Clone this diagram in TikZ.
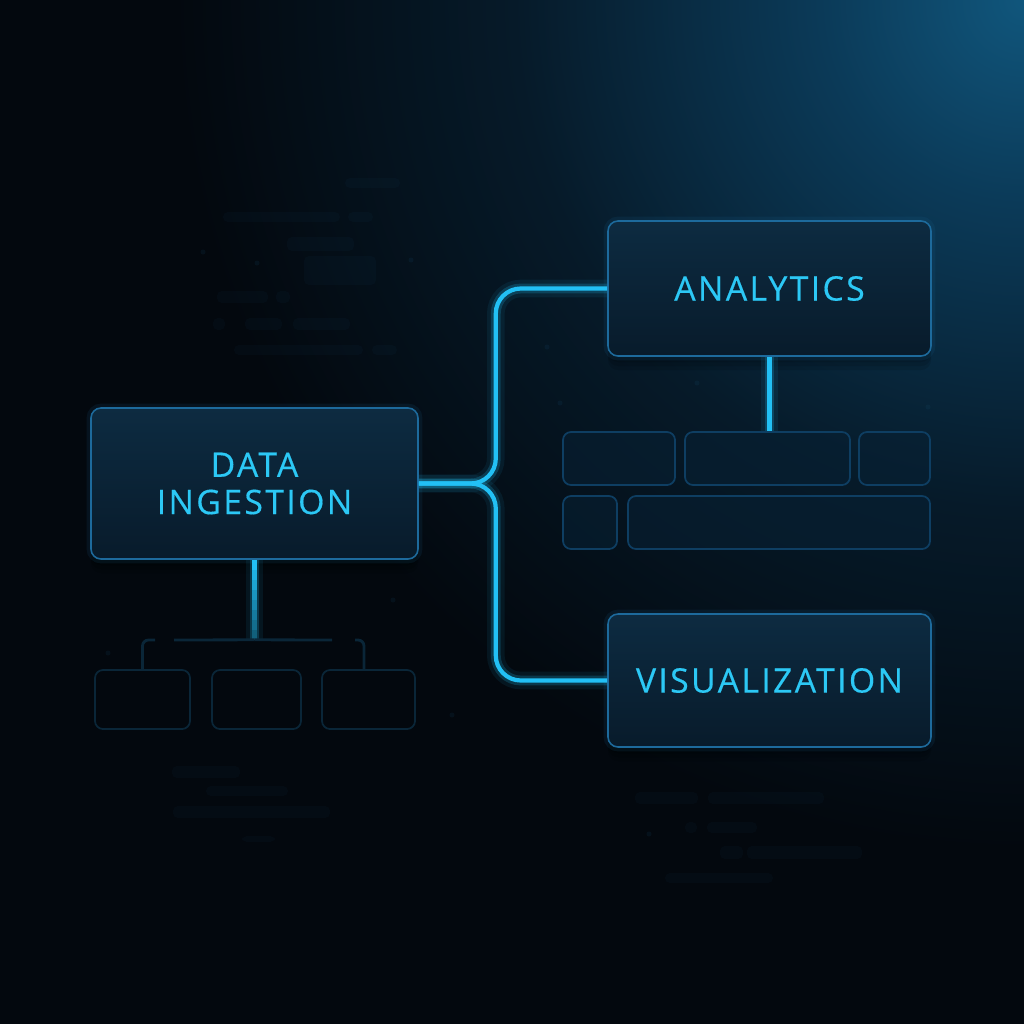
\documentclass[tikz,border=0pt]{standalone}
\usepackage{fontspec}
\newfontfamily\boxfont[LetterSpace=7,FakeBold=0.4]{Open Sans}
\usetikzlibrary{calc}
\definecolor{bgdark}{HTML}{03080E}
\definecolor{glowA}{HTML}{10567C}
\definecolor{glowB}{HTML}{0B3A58}
\definecolor{glowC}{HTML}{061A29}
\definecolor{boxtop}{HTML}{0D2B41}
\definecolor{boxbot}{HTML}{081B2B}
\definecolor{boxedge}{HTML}{1D6A9C}
\definecolor{labelcyan}{HTML}{2CC8F5}
\definecolor{wirecyan}{HTML}{22C0F5}
\definecolor{subfill}{HTML}{072033}
\definecolor{subedge}{HTML}{0E3E62}
\definecolor{subdim}{HTML}{0A2638}
\definecolor{barblue}{HTML}{1B5780}
\pgfdeclareradialshading{bgglow}{\pgfpoint{0bp}{0bp}}{color(0bp)=(glowA); color(6bp)=(glowB); color(15bp)=(glowC); color(25bp)=(bgdark); color(50bp)=(bgdark)}
\tikzset{
  mainbox/.style={rounded corners=0.1cm, draw=boxedge, line width=0.45pt,
    top color=boxtop, bottom color=boxbot, text=labelcyan, align=center, inner sep=0pt,
    font=\boxfont\fontsize{9.6}{10.6}\selectfont,
    preaction={fill=black, opacity=.1, transform canvas={yshift=-0.14cm}},
    preaction={fill=black, opacity=.1, transform canvas={yshift=-0.1cm}},
    preaction={fill=black, opacity=.1, transform canvas={yshift=-0.06cm}},
    preaction={draw=boxedge, line width=2.5pt, opacity=.12}},
  subbox/.style={rounded corners=0.08cm, draw=subedge, line width=0.5pt, fill=subfill, fill opacity=.6, inner sep=0pt},
  dimbox/.style={subbox, draw=subdim, fill=none},
  wire/.style={draw=wirecyan, line width=1.2pt, rounded corners=0.25cm,
    preaction={draw=wirecyan, line width=5pt, opacity=.08},
    preaction={draw=wirecyan, line width=2.8pt, opacity=.2}},
  stem/.style={wire, rounded corners=0pt},
  twig/.style={draw=subdim, line width=0.8pt, rounded corners=0.06cm},
  bar/.style={fill=barblue, fill opacity=.06, rounded corners=0.05cm},
  speck/.style={fill=barblue, fill opacity=.12}
}
\def\px{0.01cm}

\begin{document}
\begin{tikzpicture}[x=0.01cm, y=-0.01cm]
  %%%%% BACKGROUND %%%%%
  \useasboundingbox (0,0) rectangle (1024,1024);
  \fill[bgdark] (0,0) rectangle (1024,1024);
  \begin{scope}
    \clip (0,0) rectangle (1024,1024);
    \shade[shading=bgglow] (1024,0) circle (850);
  \end{scope}

  % faint placeholder bars
  \foreach \xa/\ya/\xb/\yb in {345/178/400/188, 223/212/340/222, 348/212/373/222, 287/237/354/251,
      304/256/376/285, 217/291/268/303, 276/291/290/303, 213/318/225/330, 245/318/282/330,
      293/318/350/330, 234/345/363/355, 372/345/397/355,
      172/766/240/778, 206/786/288/796, 173/806/330/818, 242/836/275/842,
      635/792/698/804, 708/792/824/804, 685/822/697/833, 707/822/757/833,
      720/846/743/859, 747/846/862/859, 665/873/773/883}
    \fill[bar] (\xa,\ya) rectangle (\xb,\yb);
  \foreach \x/\y in {203/252, 257/263, 411/260, 393/600, 108/653, 452/715,
      697/383, 560/403, 928/407, 547/347, 649/834}
    \fill[speck] (\x,\y) circle (2.5);

  %%%%% MAIN BOXES %%%%%
  \node[mainbox, minimum width=327*\px, minimum height=151*\px] (ingest) at (254.5,483.5) {DATA\\INGESTION};
  \node[mainbox, minimum width=323*\px, minimum height=135*\px] (analytics) at (769.5,288.5) {ANALYTICS};
  \node[mainbox, minimum width=323*\px, minimum height=133*\px] (visual) at (769.5,680.5) {VISUALIZATION};

  %%%%% SUB BOXES %%%%%
  \foreach \n/\x/\y/\w/\h in {a1/619/458.5/112/53, a2/767.5/458.5/165/53, a3/894.5/458.5/71/53,
      a4/590/522.5/54/53, a5/779/522.5/302/53}
    \node[subbox, minimum width=\w*\px, minimum height=\h*\px] (\n) at (\x,\y) {};
  \foreach \n/\x/\y/\w/\h in {i1/142.5/699.5/95/59, i2/256.5/699.5/89/59, i3/368.5/699.5/93/59}
    \node[dimbox, minimum width=\w*\px, minimum height=\h*\px] (\n) at (\x,\y) {};

  %%%%% CONNECTORS %%%%%
  \coordinate (spine) at ($(ingest.east)+(77,0)$);
  \draw[wire] (ingest.east) -- (spine) |- (analytics.west);
  \draw[wire] (ingest.east) -- (spine) |- (visual.west);
  \draw[wire, rounded corners=0pt] (analytics.south) -- (analytics.south |- a2.north);

  % ingestion tree, fading downwards
  \foreach \k in {0,...,7}
    \draw[stem, opacity={1-\k*0.1}] ($(ingest.south)+(0,\k*10)$) -- ++(0,10);
  \coordinate (fork) at ($(ingest.south)+(0,80)$);
  \coordinate (lgap) at (174,640);
  \coordinate (lturn) at (155,640);
  \coordinate (rgap) at (332,640);
  \coordinate (rturn) at (355,640);
  \coordinate (rfoot) at (364,670);
  \draw[twig] (fork) -- (lgap);
  \draw[twig] (lturn) -| (i1.north);
  \draw[twig] (fork) -- (rgap);
  \draw[twig] (rturn) -| (rfoot);
\end{tikzpicture}
\end{document}
